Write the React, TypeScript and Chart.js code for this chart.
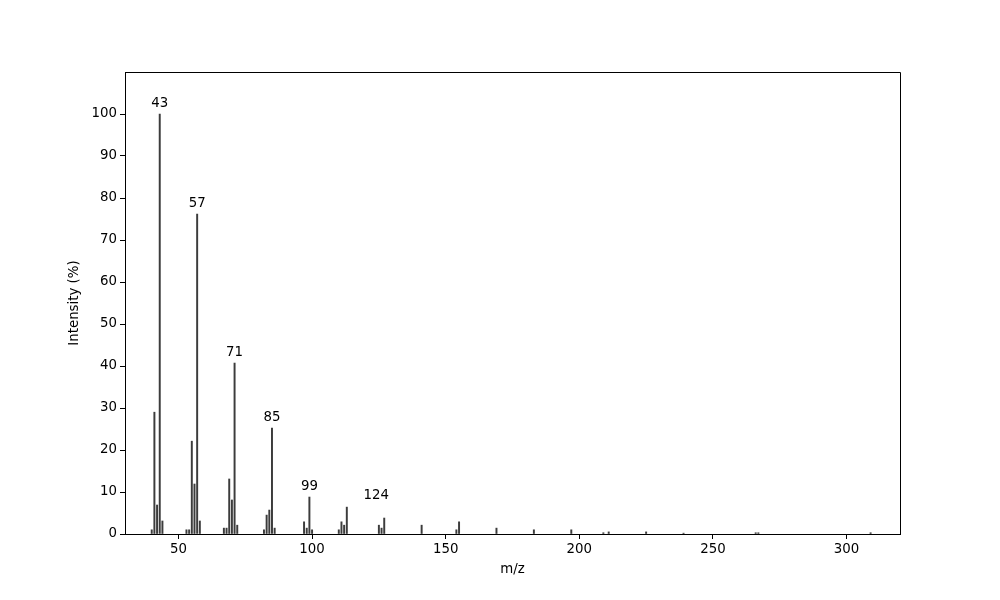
import React, { useEffect, useRef } from "react";
import { Chart, registerables } from "chart.js";

Chart.register(...registerables);

const mzValues: number[] = [
  40, 41, 42, 43, 44, 53, 54, 55, 56, 57, 58, 67, 68, 69, 70, 71, 72, 82, 83, 84, 85, 86,
  97, 98, 99, 100, 110, 111, 112, 113, 125, 126, 127, 141, 154, 155, 169, 183, 197, 209,
  211, 225, 239, 266, 267, 309,
];
const intensities: number[] = [
  1.0, 29.0, 6.9, 100, 3.1, 1.0, 1.0, 22.1, 11.9, 76.2, 3.1, 1.4, 1.4, 13.1, 8.1, 40.7, 2.1,
  1.0, 4.5, 5.7, 25.2, 1.4, 2.9, 1.4, 8.8, 1.0, 1.0, 2.9, 2.1, 6.4, 2.1, 1.4, 3.8, 2.1, 1.0,
  2.9, 1.4, 1.0, 1.0, 0.3, 0.5, 0.5, 0.2, 0.3, 0.3, 0.3,
];
const peakLabelMz: number[] = [43, 57, 71, 85, 99, 124];
const peakLabelY: number[] = [100, 76.2, 40.7, 25.2, 8.8, 6.7];
const peakLabelText: string[] = ["43", "57", "71", "85", "99", "124"];
const xTickValues: number[] = [50, 100, 150, 200, 250, 300];
const yTickValues: number[] = [0, 10, 20, 30, 40, 50, 60, 70, 80, 90, 100];

const FONT_FAMILY = "'DejaVu Sans', sans-serif";
const FONT_SIZE = 13.33;

export default function App() {
  const canvasRef = useRef<HTMLCanvasElement | null>(null);

  useEffect(() => {
    const canvas = canvasRef.current;
    if (!canvas) return;

    const framePlugin = {
      id: "frame",
      afterDraw(chart: any) {
        const { ctx, chartArea } = chart;
        const l = Math.round(chartArea.left) + 0.5;
        const t = Math.round(chartArea.top) + 0.5;
        const r = Math.round(chartArea.right) + 0.5;
        const b = Math.round(chartArea.bottom) + 0.5;
        ctx.save();
        ctx.strokeStyle = "#000";
        ctx.lineWidth = 1;
        ctx.beginPath();
        ctx.moveTo(l, t);
        ctx.lineTo(r, t);
        ctx.lineTo(r, b);
        ctx.stroke();
        ctx.restore();
      },
    };

    const labelPlugin = {
      id: "peakLabels",
      afterDatasetsDraw(chart: any) {
        const { ctx } = chart;
        const xs = chart.scales.x;
        const ys = chart.scales.y;
        ctx.save();
        ctx.font = `${FONT_SIZE}px ${FONT_FAMILY}`;
        ctx.fillStyle = "#000";
        ctx.textAlign = "center";
        ctx.textBaseline = "alphabetic";
        peakLabelMz.forEach((m, i) => {
          const px = xs.getPixelForValue(m);
          const py = ys.getPixelForValue(peakLabelY[i]) - 7;
          ctx.fillText(peakLabelText[i], px, py);
        });
        ctx.restore();
      },
    };

    const font = { family: FONT_FAMILY, size: FONT_SIZE };

    const chart = new Chart(canvas, {
      type: "bar",
      data: {
        datasets: [
          {
            data: mzValues.map((m, i) => ({ x: m, y: intensities[i] })),
            backgroundColor: "#3c3c3c",
            borderWidth: 0,
            barThickness: 1.3,
          } as any,
        ],
      },
      options: {
        animation: false,
        responsive: false,
        devicePixelRatio: 1,
        layout: { padding: { top: 72, right: 100, left: 0, bottom: 0 } },
        plugins: {
          legend: { display: false },
          tooltip: { enabled: false },
        },
        scales: {
          x: {
            type: "linear",
            min: 30,
            max: 320,
            offset: false,
            afterBuildTicks: (s: any) => {
              s.ticks = xTickValues.map((v) => ({ value: v }));
            },
            afterFit: (s: any) => {
              s.height = 66;
            },
            ticks: {
              font,
              color: "#000",
              padding: 3,
              maxRotation: 0,
              autoSkip: false,
            },
            grid: {
              offset: false,
              drawOnChartArea: false,
              drawTicks: true,
              tickLength: 5,
              color: "#000",
            },
            border: { display: true, color: "#000", width: 1 },
            title: {
              display: true,
              text: "m/z",
              font,
              color: "#000",
              padding: { top: 0, bottom: 22 },
            },
          } as any,
          y: {
            type: "linear",
            min: 0,
            max: 110,
            afterBuildTicks: (s: any) => {
              s.ticks = yTickValues.map((v) => ({ value: v }));
            },
            afterFit: (s: any) => {
              s.width = 125;
            },
            ticks: {
              font,
              color: "#000",
              padding: 3,
              autoSkip: false,
            },
            grid: {
              offset: false,
              drawOnChartArea: false,
              drawTicks: true,
              tickLength: 5,
              color: "#000",
            },
            border: { display: true, color: "#000", width: 1 },
            title: {
              display: true,
              text: "Intensity (%)",
              font,
              color: "#000",
              padding: { top: 67, bottom: 0 },
            },
          } as any,
        },
      },
      plugins: [framePlugin, labelPlugin],
    });

    return () => {
      chart.destroy();
    };
  }, []);

  return (
    <div
      style={{
        position: "fixed",
        left: 0,
        top: 0,
        width: 1000,
        height: 600,
        background: "#fff",
      }}
    >
      <canvas ref={canvasRef} width={1000} height={600} />
    </div>
  );
}
